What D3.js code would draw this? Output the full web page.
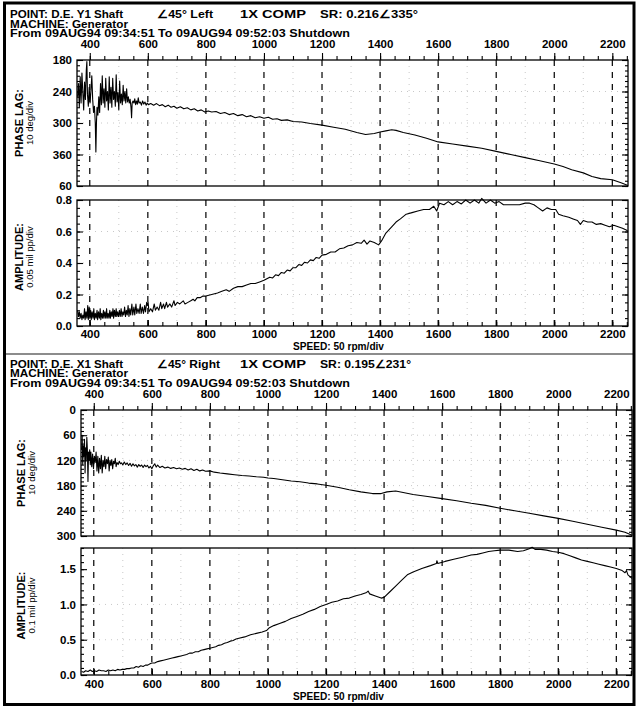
<!DOCTYPE html>
<html>
<head>
<meta charset="utf-8">
<script src="https://cdn.jsdelivr.net/npm/d3@7"></script>
<style>
  body { margin: 0; background: #fff; }
  svg { display: block; font-family: "Liberation Sans", Arial, sans-serif; }
</style>
</head>
<body>
<svg id="chart" width="637" height="708"></svg>
<script>
// ---- data (rpm, value) ----
var rpmTicks = [400, 600, 800, 1000, 1200, 1400, 1600, 1800, 2000, 2200];
var rpmFaint = [500, 700, 900, 1100, 1300, 1500, 1700, 1900, 2100];

var phaseY1Ticks = [180, 240, 300, 360, 420];
var phaseY1Labels = ['180', '240', '300', '360', '60'];
var ampY1Ticks = [0, 0.2, 0.4, 0.6, 0.8];
var phaseX1Ticks = [0, 60, 120, 180, 240, 300];
var ampX1Ticks = [0, 0.5, 1.0, 1.5];

// D.E. Y1 phase lag, deg
var phaseY1 = [[358,250],[361,225],[364,270],[367,212],[370,262],[373,205],[376,240],[379,275],[382,222],[385,255],
  [388,200],[390,183],[392,245],[395,268],[398,232],[401,262],[404,238],[407,210],[410,255],[413,280],[416,268],
  [419,300],[421,355],[423,300],[425,270],[428,285],[431,250],[434,280],[437,225],[440,265],[443,210],[446,262],
  [449,235],[452,270],[455,215],[458,258],[461,240],[464,275],[467,212],[470,262],[473,232],[476,270],[479,215],
  [482,255],[485,240],[488,268],[491,208],[494,260],[497,242],[500,275],[503,220],[506,262],[509,245],[512,265],
  [515,228],[518,258],[521,240],[524,262],[527,235],[530,260],[533,250],[536,262],[539,255],[542,270],[544,290],
  [546,262],[549,258],[552,262],[555,254],[558,265],[561,258],[564,264],[567,252],[570,262],[574,260],[578,266],
  [582,258],[586,264],[590,260],[594,266],[598,262],[602,265],[610,263],[620,266],[630,263],[640,267],[650,265],
  [660,269],[670,266],[680,270],[690,268],[700,272],[712,269],[724,273],[736,271],[748,275],[760,273],[772,277],
  [784,275],[796,279],[808,277],[820,279],[835,278],[850,282],[865,280],[880,284],[895,282],[910,286],[925,284],
  [940,288],[955,286],[970,290],[985,288],[1000,291],[1015,289],[1030,293],[1045,292],[1060,295],[1080,294],
  [1100,297],[1130,298],[1160,301],[1200,304],[1240,308],[1280,312],[1320,318],[1350,322],[1380,320],[1400,317],
  [1420,315],[1440,313],[1455,314],[1480,318],[1520,323],[1560,329],[1600,336],[1650,340],[1700,344],[1750,348],
  [1800,354],[1850,360],[1900,366],[1950,372],[2000,378],[2030,383],[2060,389],[2100,395],[2130,402],[2160,406],
  [2200,408],[2230,414],[2254,419]];

// D.E. Y1 amplitude, mil pp
var ampY1 = [[358,0.10],[361,0.06],[364,0.09],[367,0.05],[370,0.08],[373,0.04],[376,0.07],[379,0.05],[382,0.11],
  [384,0.04],[387,0.09],[390,0.05],[393,0.13],[395,0.04],[398,0.12],[400,0.05],[403,0.10],[405,0.04],[408,0.09],
  [411,0.05],[414,0.11],[416,0.04],[419,0.08],[422,0.05],[425,0.10],[427,0.04],[430,0.09],[433,0.05],[436,0.11],
  [438,0.04],[441,0.08],[444,0.05],[447,0.10],[449,0.05],[452,0.09],[455,0.05],[458,0.11],[460,0.05],[463,0.08],
  [466,0.05],[469,0.10],[471,0.05],[474,0.09],[477,0.06],[480,0.11],[482,0.05],[485,0.10],[488,0.06],[491,0.11],
  [493,0.06],[496,0.09],[499,0.06],[502,0.10],[505,0.06],[508,0.11],[511,0.06],[514,0.09],[517,0.07],[520,0.12],
  [523,0.06],[526,0.10],[529,0.07],[532,0.13],[535,0.06],[538,0.11],[541,0.07],[545,0.14],[548,0.07],[552,0.12],
  [555,0.07],[559,0.14],[562,0.08],[566,0.11],[570,0.08],[574,0.14],[577,0.08],[581,0.12],[585,0.08],[589,0.13],
  [592,0.09],[596,0.15],[598,0.13],[601,0.15],[604,0.09],[610,0.11],[616,0.09],[622,0.14],[626,0.10],[632,0.12],
  [638,0.10],[644,0.15],[648,0.11],[654,0.14],[658,0.11],[664,0.15],[668,0.12],[676,0.14],[682,0.12],[690,0.16],
  [694,0.13],[702,0.15],[710,0.14],[722,0.16],[728,0.14],[738,0.15],[748,0.16],[756,0.17],[762,0.16],[770,0.18],
  [780,0.18],[790,0.19],[800,0.19],[820,0.20],[840,0.21],[855,0.22],[870,0.23],[880,0.22],[895,0.24],[910,0.25],
  [925,0.25],[940,0.26],[955,0.27],[970,0.27],[985,0.28],[1000,0.29],[1010,0.30],[1020,0.31],[1030,0.305],
  [1040,0.325],[1050,0.32],[1060,0.34],[1070,0.335],[1080,0.355],[1090,0.35],[1100,0.37],[1110,0.37],[1120,0.39],
  [1130,0.385],[1140,0.405],[1150,0.40],[1160,0.42],[1170,0.415],[1180,0.435],[1190,0.43],[1200,0.45],[1215,0.455],
  [1230,0.47],[1245,0.47],[1260,0.49],[1275,0.495],[1290,0.51],[1305,0.515],[1320,0.53],[1335,0.525],[1345,0.545],
  [1355,0.52],[1365,0.54],[1380,0.53],[1395,0.515],[1405,0.54],[1420,0.59],[1440,0.63],[1455,0.66],[1470,0.68],
  [1490,0.71],[1510,0.72],[1530,0.73],[1550,0.74],[1570,0.74],[1585,0.76],[1595,0.73],[1605,0.78],[1620,0.77],
  [1635,0.79],[1650,0.77],[1665,0.79],[1680,0.775],[1695,0.80],[1710,0.78],[1725,0.80],[1740,0.78],[1750,0.81],
  [1765,0.78],[1780,0.80],[1795,0.78],[1810,0.79],[1825,0.77],[1840,0.77],[1860,0.77],[1880,0.77],[1900,0.78],
  [1915,0.78],[1930,0.77],[1945,0.75],[1960,0.73],[1975,0.75],[1990,0.74],[2005,0.74],[2015,0.71],[2030,0.70],
  [2050,0.69],[2065,0.68],[2080,0.67],[2090,0.645],[2100,0.67],[2115,0.66],[2130,0.66],[2145,0.645],[2160,0.65],
  [2175,0.64],[2190,0.63],[2205,0.64],[2220,0.63],[2235,0.62],[2248,0.61],[2254,0.60]];

// D.E. X1 phase lag, deg
var phaseX1 = [[358,95],[360,60],[362,130],[364,85],[366,110],[368,70],[370,150],[372,90],[374,120],[376,65],
  [378,95],[380,170],[382,100],[384,120],[386,95],[388,130],[390,100],[393,135],[396,105],[399,140],[402,110],
  [405,125],[408,100],[411,145],[414,110],[417,150],[420,115],[423,140],[426,108],[429,150],[432,120],[435,135],
  [438,110],[441,140],[444,118],[447,128],[450,112],[453,145],[456,120],[459,132],[462,118],[465,140],[468,122],
  [471,128],[474,115],[477,135],[480,125],[484,130],[488,122],[492,128],[496,126],[500,131],[505,124],[510,130],
  [515,126],[520,132],[525,127],[530,134],[535,128],[540,133],[545,130],[550,136],[555,130],[560,134],[565,131],
  [570,137],[575,131],[580,135],[585,132],[590,138],[595,134],[600,140],[605,133],[610,128],[615,136],[620,131],
  [628,137],[636,134],[645,138],[655,136],[665,139],[675,137],[685,140],[695,138],[705,141],[715,139],[725,143],
  [735,140],[745,144],[755,141],[765,145],[775,143],[785,146],[800,145],[815,148],[835,150],[860,152],[885,154],
  [910,156],[935,157],[960,159],[985,160],[1000,162],[1020,163],[1050,166],[1080,169],[1110,171],[1140,174],
  [1170,176],[1200,179],[1240,184],[1280,190],[1320,195],[1360,199],[1390,199],[1410,195],[1440,193],[1470,197],
  [1500,201],[1550,206],[1600,211],[1650,216],[1700,222],[1750,227],[1800,234],[1850,240],[1900,246],[1950,252],
  [2000,258],[2050,265],[2100,272],[2150,279],[2200,286],[2230,291],[2254,298]];

// D.E. X1 amplitude, mil pp
var ampX1 = [[358,0.05],[365,0.04],[372,0.06],[380,0.05],[388,0.07],[395,0.05],[402,0.06],[410,0.05],[418,0.07],
  [426,0.06],[434,0.06],[442,0.05],[450,0.07],[458,0.06],[466,0.07],[474,0.06],[482,0.08],[490,0.07],[498,0.08],
  [506,0.08],[514,0.09],[522,0.09],[530,0.10],[538,0.10],[546,0.12],[554,0.11],[562,0.13],[570,0.12],[578,0.14],
  [586,0.14],[594,0.16],[600,0.17],[610,0.17],[620,0.19],[630,0.20],[640,0.21],[650,0.22],[660,0.23],[670,0.24],
  [680,0.25],[690,0.26],[700,0.27],[710,0.28],[720,0.29],[730,0.31],[740,0.31],[750,0.33],[760,0.33],[770,0.35],
  [780,0.36],[790,0.37],[800,0.38],[810,0.39],[820,0.40],[830,0.42],[840,0.43],[850,0.45],[860,0.46],[870,0.48],
  [880,0.49],[890,0.51],[900,0.52],[920,0.54],[940,0.57],[960,0.59],[980,0.61],[995,0.63],[1005,0.67],[1020,0.70],
  [1040,0.73],[1060,0.76],[1080,0.80],[1100,0.83],[1120,0.86],[1140,0.90],[1160,0.93],[1180,0.97],[1200,1.00],
  [1220,1.03],[1240,1.05],[1260,1.08],[1280,1.09],[1300,1.12],[1320,1.14],[1340,1.17],[1345,1.19],[1350,1.15],
  [1370,1.12],[1390,1.09],[1400,1.10],[1420,1.18],[1440,1.26],[1460,1.34],[1480,1.42],[1500,1.46],[1530,1.51],
  [1560,1.55],[1580,1.58],[1582,1.62],[1585,1.58],[1610,1.61],[1640,1.64],[1670,1.67],[1700,1.70],[1720,1.71],
  [1740,1.73],[1760,1.75],[1780,1.76],[1800,1.77],[1830,1.77],[1860,1.75],[1880,1.76],[1900,1.79],[1910,1.81],
  [1920,1.78],[1940,1.78],[1960,1.77],[1980,1.75],[2000,1.74],[2020,1.72],[2040,1.69],[2060,1.66],[2080,1.63],
  [2100,1.61],[2120,1.59],[2140,1.57],[2160,1.55],[2180,1.53],[2200,1.51],[2220,1.48],[2230,1.45],[2235,1.48],
  [2240,1.42],[2254,1.37]];

// header texts: [text, x, width]
var headerY1 = [
  [['POINT: D.E. Y1 Shaft', 10, 113], ['\u222045\u00b0 Left', 157, 56], ['1X COMP', 240, 66], ['SR: 0.216\u2220335\u00b0', 320, 98]],
  [['MACHINE: Generator', 10, 118]],
  [['From 09AUG94 09:34:51 To 09AUG94 09:52:03 Shutdown', 10, 340]]
];
var headerX1 = [
  [['POINT: D.E. X1 Shaft', 10, 113], ['\u222045\u00b0 Right', 157, 63], ['1X COMP', 240, 66], ['SR: 0.195\u2220231\u00b0', 320, 91]],
  [['MACHINE: Generator', 10, 118]],
  [['From 09AUG94 09:34:51 To 09AUG94 09:52:03 Shutdown', 10, 340]]
];

var svg = d3.select('#chart');
svg.append('rect').attr('width', 637).attr('height', 708).attr('fill', '#fff');

var charts = [
  { header: headerY1, headY: [17.5, 27.5, 37], x0: 77, x1: 628, titleX: 0,
    phase: { top: 60, bottom: 186, data: phaseY1, domain: [180, 420], ticks: phaseY1Ticks,
             labels: phaseY1Labels, minor: d3.range(180, 421, 10), title: 'PHASE LAG:', sub: '10 deg/div' },
    amp: { top: 200, bottom: 326, data: ampY1, domain: [0, 0.8], ticks: ampY1Ticks,
           minor: d3.range(0, 17).map(function (v) { return v * 0.05; }), title: 'AMPLITUDE:', sub: '0.05 mil pp/div' },
    topPad: 5, botPad: 4, speedY: 350 },
  { header: headerX1, headY: [367.5, 377, 386.5], x0: 81, x1: 632, titleX: 2,
    phase: { top: 410, bottom: 536, data: phaseX1, domain: [0, 300], ticks: phaseX1Ticks,
             labels: null, minor: d3.range(0, 301, 10), title: 'PHASE LAG:', sub: '10 deg/div' },
    amp: { top: 548, bottom: 675, data: ampX1, domain: [0, 1.8], ticks: ampX1Ticks,
           minor: d3.range(0, 19).map(function (v) { return v / 10; }), title: 'AMPLITUDE:', sub: '0.1 mil pp/div' },
    topPad: 5, botPad: 5, speedY: 700 }
];

charts.forEach(drawChart);

// separator + outer frame
svg.append('line').attr('x1', 5).attr('x2', 634).attr('y1', 354).attr('y2', 354)
  .attr('stroke', '#666').attr('stroke-width', 1.5);
svg.append('rect').attr('x', 4.5).attr('y', 3).attr('width', 629.5).attr('height', 701.5)
  .attr('fill', 'none').attr('stroke', '#000').attr('stroke-width', 3);

function drawChart(c) {
  var x = d3.scaleLinear().domain([356, 2254]).range([c.x0, c.x1]);

  // header
  c.header.forEach(function (row, i) {
    row.forEach(function (t) {
      svg.append('text').attr('x', t[1]).attr('y', c.headY[i])
        .attr('font-size', 11).attr('font-weight', 'bold')
        .attr('textLength', t[2]).attr('lengthAdjust', 'spacingAndGlyphs')
        .text(t[0]);
    });
  });

  [c.phase, c.amp].forEach(function (p, k) {
    // phase: value grows downward; amplitude: grows upward
    var y = d3.scaleLinear().domain(p.domain).range(k === 0 ? [p.top, p.bottom] : [p.bottom, p.top]);
    var g = svg.append('g');

    // faint dotted grid
    g.selectAll('.fv').data(rpmFaint).join('line')
      .attr('x1', x).attr('x2', x).attr('y1', p.top).attr('y2', p.bottom)
      .attr('stroke', '#c8c8c8').attr('stroke-width', 1).attr('stroke-dasharray', '1,5');
    g.selectAll('.fh').data(p.ticks.slice(1, -1)).join('line')
      .attr('x1', c.x0).attr('x2', c.x1).attr('y1', y).attr('y2', y)
      .attr('stroke', '#c8c8c8').attr('stroke-width', 1).attr('stroke-dasharray', '1,5');

    // dashed grid at 200 rpm
    g.selectAll('.dv').data(rpmTicks).join('line')
      .attr('x1', x).attr('x2', x).attr('y1', p.top).attr('y2', p.bottom)
      .attr('stroke', '#000').attr('stroke-width', 1.2).attr('stroke-dasharray', '6,6');

    // left axis (ticks inward)
    var minorL = g.append('g').attr('transform', 'translate(' + c.x0 + ',0)')
      .call(d3.axisLeft(y).tickValues(p.minor).tickSize(-3).tickFormat(''));
    var majorL = g.append('g').attr('transform', 'translate(' + c.x0 + ',0)')
      .call(d3.axisLeft(y).tickValues(p.ticks).tickSize(-6).tickPadding(5)
        .tickFormat(function (d, i) { return p.labels ? p.labels[i] : (k === 0 ? d : d3.format('.1f')(d)); }));
    // right axis (ticks inward)
    var minorR = g.append('g').attr('transform', 'translate(' + c.x1 + ',0)')
      .call(d3.axisRight(y).tickValues(p.minor).tickSize(-3).tickFormat(''));
    var majorR = g.append('g').attr('transform', 'translate(' + c.x1 + ',0)')
      .call(d3.axisRight(y).tickValues(p.ticks).tickSize(-6).tickFormat(''));
    [minorL, majorL, minorR, majorR].forEach(styleAxis);

    // x axes
    var rpmMinor = d3.range(400, 2251, 50);
    if (k === 0) {
      var tMin = g.append('g').attr('transform', 'translate(0,' + p.top + ')')
        .call(d3.axisTop(x).tickValues(rpmMinor).tickSize(4).tickFormat(''));
      var tMaj = g.append('g').attr('transform', 'translate(0,' + p.top + ')')
        .call(d3.axisTop(x).tickValues(rpmTicks).tickSize(7).tickPadding(c.topPad).tickFormat(d3.format('d')));
      styleAxis(tMin); styleAxis(tMaj);
    } else {
      var bMin = g.append('g').attr('transform', 'translate(0,' + p.bottom + ')')
        .call(d3.axisBottom(x).tickValues(rpmMinor).tickSize(-4).tickFormat(''));
      var bMaj = g.append('g').attr('transform', 'translate(0,' + p.bottom + ')')
        .call(d3.axisBottom(x).tickValues(rpmTicks).tickSize(-6).tickPadding(c.botPad).tickFormat(d3.format('d')));
      styleAxis(bMin); styleAxis(bMaj);
      svg.append('text').attr('x', 293).attr('y', c.speedY)
        .attr('font-size', 11).attr('font-weight', 'bold')
        .attr('textLength', 91).attr('lengthAdjust', 'spacingAndGlyphs')
        .text('SPEED: 50 rpm/div');
    }

    // frame
    g.append('rect').attr('x', c.x0).attr('y', p.top).attr('width', c.x1 - c.x0).attr('height', p.bottom - p.top)
      .attr('fill', 'none').attr('stroke', '#000').attr('stroke-width', 1.3);

    // data line
    g.append('path').datum(p.data)
      .attr('d', d3.line().x(function (d) { return x(d[0]); }).y(function (d) { return y(d[1]); }))
      .attr('fill', 'none').attr('stroke', '#000').attr('stroke-width', 1.1).attr('stroke-linejoin', 'round');

    // rotated titles
    var cy = (p.top + p.bottom) / 2 - (k === 0 ? 0 : 6);
    svg.append('text').attr('transform', 'translate(' + (23 + c.titleX) + ',' + cy + ') rotate(-90)')
      .attr('text-anchor', 'middle').attr('font-size', 11).attr('font-weight', 'bold').text(p.title);
    svg.append('text').attr('transform', 'translate(' + (33 + c.titleX) + ',' + cy + ') rotate(-90)')
      .attr('text-anchor', 'middle').attr('font-size', 9.5).text(p.sub);
  });
}

function styleAxis(a) {
  a.select('.domain').remove();
  a.selectAll('line').attr('stroke', '#000').attr('stroke-width', 1.1);
  a.selectAll('text').attr('fill', '#000').attr('font-size', 11.5).attr('font-weight', 'bold')
    .attr('font-family', '"Liberation Sans", Arial, sans-serif');
}
</script>
</body>
</html>
